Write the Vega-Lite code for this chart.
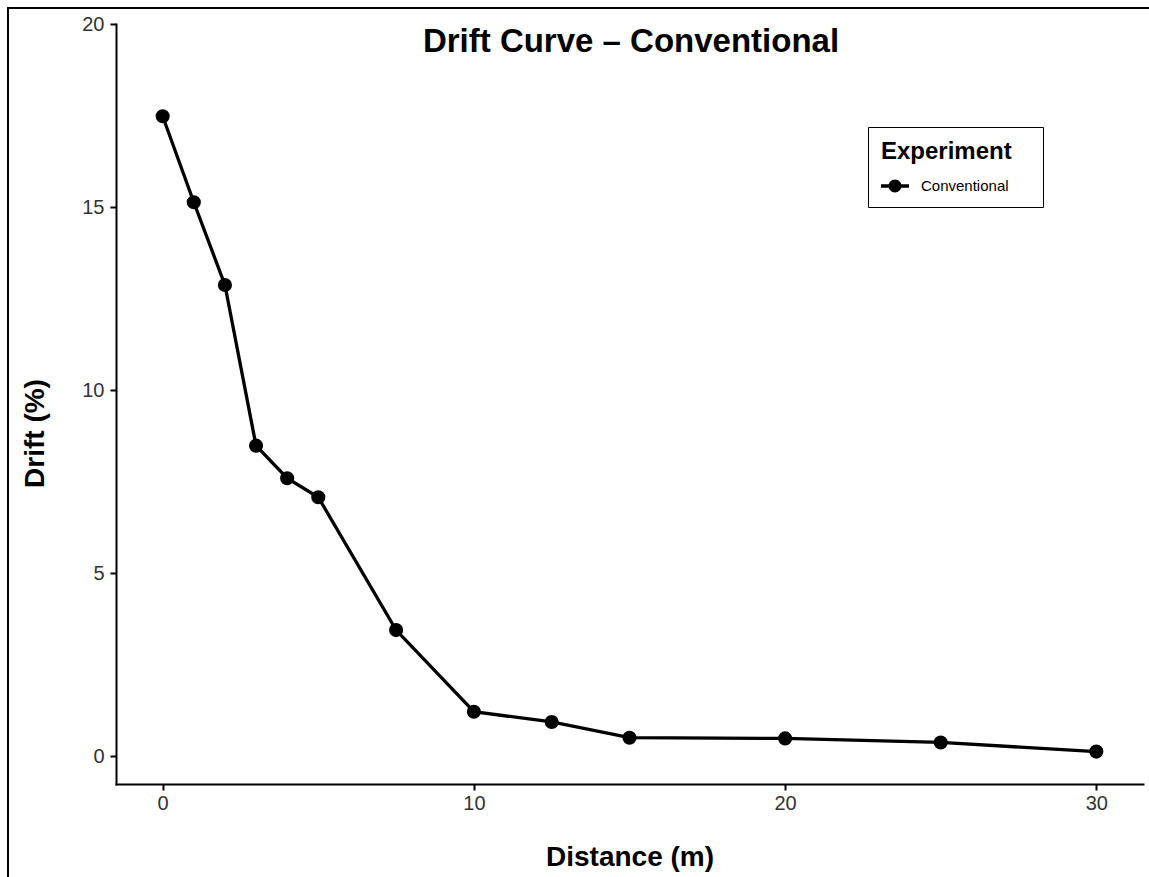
{
  "$schema": "https://vega.github.io/schema/vega-lite/v6.json",
  "usermeta": {"embedOptions": {"actions": false}},
  "width": 1150,
  "height": 880,
  "autosize": {"type": "none"},
  "padding": {"left": 8, "top": 8, "right": 0, "bottom": 0},
  "background": "white",
  "title": {
    "text": "Drift Curve – Conventional",
    "font": "Liberation Sans",
    "fontSize": 33,
    "fontWeight": "bold",
    "color": "black",
    "anchor": "middle",
    "frame": "group",
    "baseline": "alphabetic",
    "dx": 48,
    "offset": -77
  },
  "data": {
    "values": [
      {"Distance": 0, "Drift": 17.48, "Experiment": "Conventional"},
      {"Distance": 1, "Drift": 15.13, "Experiment": "Conventional"},
      {"Distance": 2, "Drift": 12.87, "Experiment": "Conventional"},
      {"Distance": 3, "Drift": 8.48, "Experiment": "Conventional"},
      {"Distance": 4, "Drift": 7.59, "Experiment": "Conventional"},
      {"Distance": 5, "Drift": 7.07, "Experiment": "Conventional"},
      {"Distance": 7.5, "Drift": 3.44, "Experiment": "Conventional"},
      {"Distance": 10, "Drift": 1.21, "Experiment": "Conventional"},
      {"Distance": 12.5, "Drift": 0.93, "Experiment": "Conventional"},
      {"Distance": 15, "Drift": 0.5, "Experiment": "Conventional"},
      {"Distance": 20, "Drift": 0.48, "Experiment": "Conventional"},
      {"Distance": 25, "Drift": 0.37, "Experiment": "Conventional"},
      {"Distance": 30, "Drift": 0.12, "Experiment": "Conventional"}
    ]
  },
  "encoding": {
    "x": {
      "field": "Distance",
      "type": "quantitative",
      "scale": {"domain": [-1.5, 31.5], "range": [108, 1135], "nice": false, "zero": false},
      "axis": {
        "title": "Distance (m)",
        "orient": "bottom",
        "offset": -104,
        "values": [0, 10, 20, 30],
        "grid": false,
        "domainColor": "black",
        "domainWidth": 2,
        "domainCap": "square",
        "tickColor": "black",
        "tickWidth": 2,
        "tickSize": 6,
        "labelFont": "Liberation Sans",
        "labelFontSize": 20,
        "labelColor": "#333333",
        "labelPadding": 3,
        "titleFont": "Liberation Sans",
        "titleFontSize": 28,
        "titleFontWeight": "bold",
        "titleColor": "black",
        "titleBaseline": "alphabetic",
        "titleY": 81
      }
    },
    "y": {
      "field": "Drift",
      "type": "quantitative",
      "scale": {"domain": [-0.765, 20], "range": [776, 16], "nice": false, "zero": false},
      "axis": {
        "title": "Drift (%)",
        "orient": "left",
        "offset": -108,
        "values": [0, 5, 10, 15, 20],
        "grid": false,
        "domainColor": "black",
        "domainWidth": 2,
        "domainCap": "square",
        "tickColor": "black",
        "tickWidth": 2,
        "tickSize": 6,
        "labelFont": "Liberation Sans",
        "labelFontSize": 20,
        "labelColor": "#333333",
        "labelPadding": 6,
        "titleFont": "Liberation Sans",
        "titleFontSize": 28,
        "titleFontWeight": "bold",
        "titleColor": "black",
        "titleAngle": 270,
        "titleAlign": "center",
        "titleBaseline": "alphabetic",
        "titleX": -73,
        "titleY": 425
      }
    }
  },
  "layer": [
    {
      "mark": {"type": "line", "color": "black", "strokeWidth": 3.3},
      "encoding": {}
    },
    {
      "mark": {"type": "point", "filled": true, "opacity": 1, "size": 200},
      "encoding": {
        "color": {
          "field": "Experiment",
          "type": "nominal",
          "scale": {"range": ["black"]},
          "legend": {
            "title": "Experiment",
            "orient": "none",
            "legendX": 860,
            "legendY": 119,
            "padding": 13,
            "strokeColor": "black",
            "fillColor": "white",
            "titleFont": "Liberation Sans",
            "titleFontSize": 24,
            "titleFontWeight": "bold",
            "titleColor": "black",
            "titlePadding": 13,
            "labelFont": "Liberation Sans",
            "labelFontSize": 15,
            "labelColor": "black",
            "labelOffset": 17,
            "labelExpr": "datum.label + '\\u00a0\\u00a0\\u00a0\\u00a0\\u00a0\\u200b'",
            "symbolType": "M-1.556,-0.19L1.556,-0.19L1.556,0.19L-1.556,0.19Z M0.72,0A0.72,0.72,0,1,1,-0.72,0A0.72,0.72,0,1,1,0.72,0Z",
            "symbolSize": 324,
            "symbolOffset": 5,
            "symbolFillColor": "black",
            "symbolStrokeColor": "black",
            "symbolStrokeWidth": 0,
            "encode": {"legend": {"update": {"strokeWidth": {"value": 1.5}}}}
          }
        }
      }
    }
  ],
  "config": {
    "view": {"stroke": "black", "strokeWidth": 2},
    "font": "Liberation Sans"
  }
}
